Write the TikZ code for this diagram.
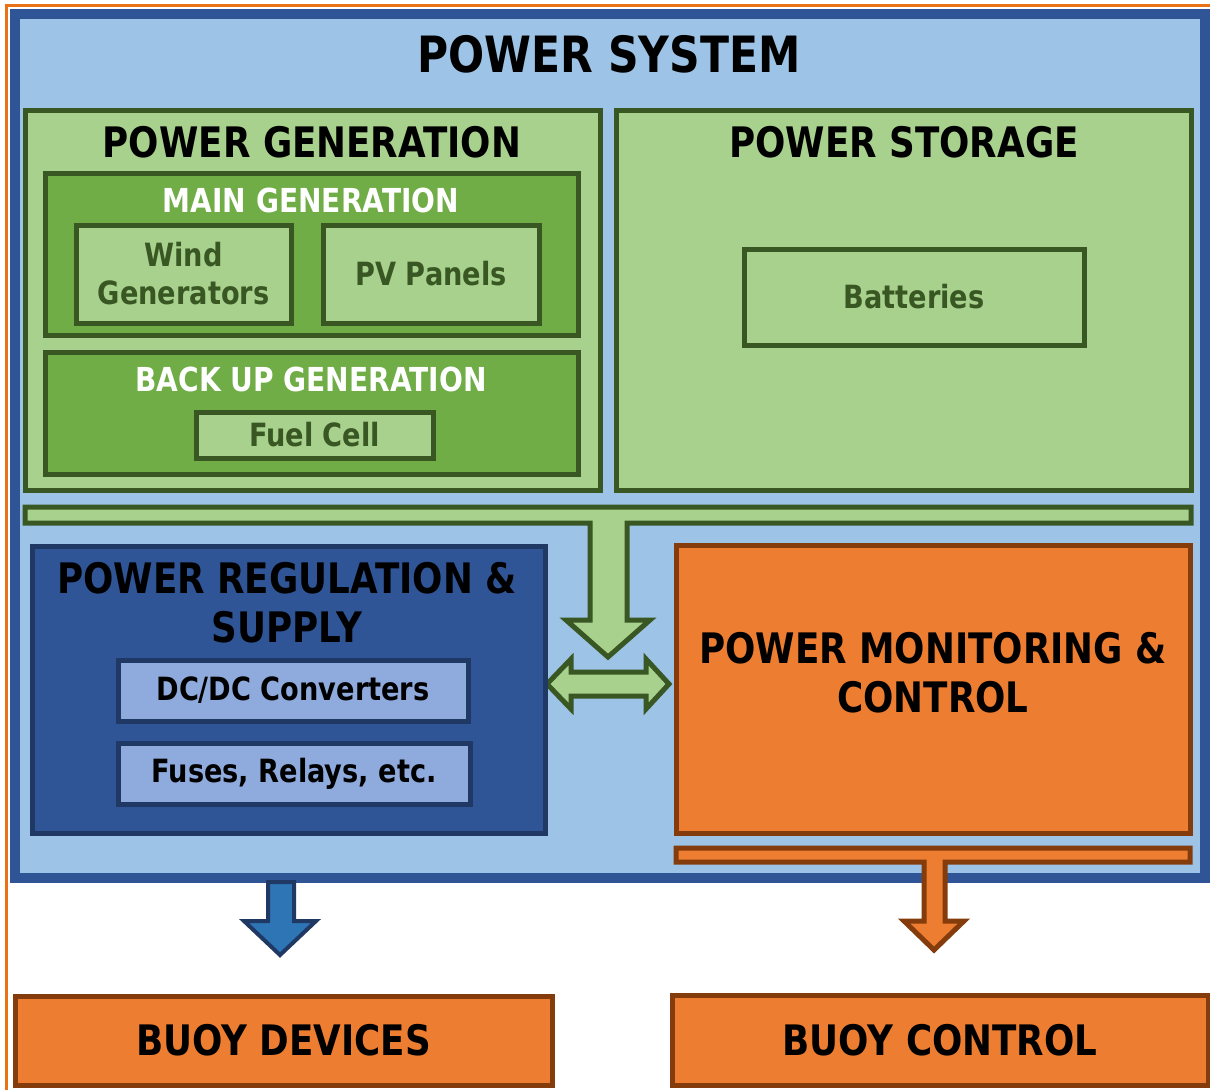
\documentclass[tikz,border=0pt]{standalone}
\usepackage{fontspec}
\setmainfont{DejaVu Sans}[FakeStretch=0.85]
\usetikzlibrary{positioning}
\definecolor{skyblue}{HTML}{9DC3E6}
\definecolor{sysblue}{HTML}{2F5597}
\definecolor{navyline}{HTML}{203864}
\definecolor{paleblue}{HTML}{8FAADC}
\definecolor{arrowblue}{HTML}{2E75B6}
\definecolor{lightgreen}{HTML}{A9D18E}
\definecolor{midgreen}{HTML}{70AD47}
\definecolor{darkgreen}{HTML}{385723}
\definecolor{boxorange}{HTML}{ED7D31}
\definecolor{brownline}{HTML}{843C0C}
\definecolor{frameorange}{HTML}{E97116}
\tikzset{
  box/.style={draw, inner sep=0pt, outer sep=0pt, align=center, line join=miter},
  sysbox/.style={box, fill=skyblue, draw=sysblue, line width=10pt},
  genbox/.style={box, fill=lightgreen, draw=darkgreen, line width=5pt},
  groupbox/.style={box, fill=midgreen, draw=darkgreen, line width=5pt},
  leafbox/.style={box, fill=lightgreen, draw=darkgreen, line width=5pt,
    text=darkgreen, font=\leaffont},
  regbox/.style={box, fill=sysblue, draw=navyline, line width=5pt},
  partbox/.style={box, fill=paleblue, draw=navyline, line width=5pt, font=\leaffont},
  ctrlbox/.style={box, fill=boxorange, draw=brownline, line width=5pt},
  headtext/.style={inner sep=0pt, align=center, font=\headfont},
  grouptext/.style={inner sep=0pt, text=white, font=\groupfont},
  greenbar/.style={fill=lightgreen, draw=darkgreen, line width=5pt, line join=miter},
  orangebar/.style={fill=boxorange, draw=brownline, line width=5pt, line join=miter},
  bluebar/.style={fill=arrowblue, draw=navyline, line width=4pt, line join=miter}
}
\newcommand\sysfont{\fontsize{50}{60}\selectfont\bfseries}
\newcommand\headfont{\fontsize{42}{49}\selectfont\bfseries}
\newcommand\groupfont{\fontsize{33}{38}\selectfont\bfseries}
\newcommand\leaffont{\fontsize{32}{38}\selectfont\bfseries}

\begin{document}
\begin{tikzpicture}[x=1pt, y=-1pt]

  \useasboundingbox (0,0) rectangle (1210,1090);

  \draw[frameorange, line width=3pt] (6.5,1090) -- (6.5,5.5) -- (1210,5.5);

  \node[sysbox, minimum width=1190pt, minimum height=864pt] (sys) at (610,446) {};
  \node[font=\sysfont, inner sep=0pt] (systitle) at (609,54) {POWER SYSTEM};

  \node[genbox, minimum width=575pt, minimum height=380pt] (gen) at (312.5,300) {};
  \node[headtext] (gentitle) at (312,142) {POWER GENERATION};
  \node[genbox, minimum width=575pt, minimum height=380pt] (stor) at (903.5,300) {};
  \node[headtext] (stortitle) at (904,142) {POWER STORAGE};

  \node[groupbox, minimum width=533pt, minimum height=162pt] (maingen) at (311.5,254) {};
  \node[grouptext] (maintitle) at (311,200) {MAIN GENERATION};
  \node[leafbox, minimum width=215pt, minimum height=98pt] (wind) at (183.5,274)
    {Wind\\Generators};
  \node[leafbox, minimum width=216pt, minimum height=98pt] (pv) at (431,274) {PV Panels};

  \node[groupbox, minimum width=533pt, minimum height=122pt] (backup) at (311.5,413) {};
  \node[grouptext] (backtitle) at (311,379) {BACK UP GENERATION};
  \node[leafbox, minimum width=237pt, minimum height=46pt] (fuel) at (314.5,435) {Fuel Cell};

  \node[leafbox, minimum width=340pt, minimum height=96pt] (batt) at (914,297) {Batteries};

  \draw[greenbar] (25,507) -- (1191,507) -- (1191,523) -- (627,523) -- (627,620)
    -- (650,620) -- (608,657) -- (566,620) -- (590,620) -- (590,523) -- (25,523) -- cycle;
  \draw[greenbar] (547,684) -- (571,659) -- (571,672) -- (646,672) -- (646,659)
    -- (669,684) -- (646,709) -- (646,696) -- (571,696) -- (571,709) -- cycle;

  \node[regbox, minimum width=513pt, minimum height=287pt] (reg) at (288.5,689.5) {};
  \node[headtext] (regtitle) at (287,603) {POWER REGULATION \&\\SUPPLY};
  \node[partbox, minimum width=350pt, minimum height=61pt] (dcdc) at (293,690.5)
    {DC/DC Converters};
  \node[partbox, minimum width=352pt, minimum height=61pt] (fuses) at (294,773.5)
    {Fuses, Relays, etc.};

  \node[ctrlbox, minimum width=514pt, minimum height=288pt] (mon) at (933,689) {};
  \node[headtext] (montitle) at (933,672.5) {POWER MONITORING \&\\CONTROL};

  \draw[orangebar] (676,848) -- (1190,848) -- (1190,862) -- (945,862) -- (945,921)
    -- (964,921) -- (934,950) -- (904,921) -- (924,921) -- (924,862) -- (676,862) -- cycle;
  \draw[bluebar] (268,882) -- (294,882) -- (294,921) -- (316,921) -- (280,955)
    -- (244,921) -- (268,921) -- cycle;

  \node[ctrlbox, font=\headfont, minimum width=537pt, minimum height=89pt] (devices)
    at (283.5,1040.5) {BUOY DEVICES};
  \node[ctrlbox, font=\headfont, minimum width=536pt, minimum height=90pt] (control)
    at (940,1040) {BUOY CONTROL};

\end{tikzpicture}
\end{document}
